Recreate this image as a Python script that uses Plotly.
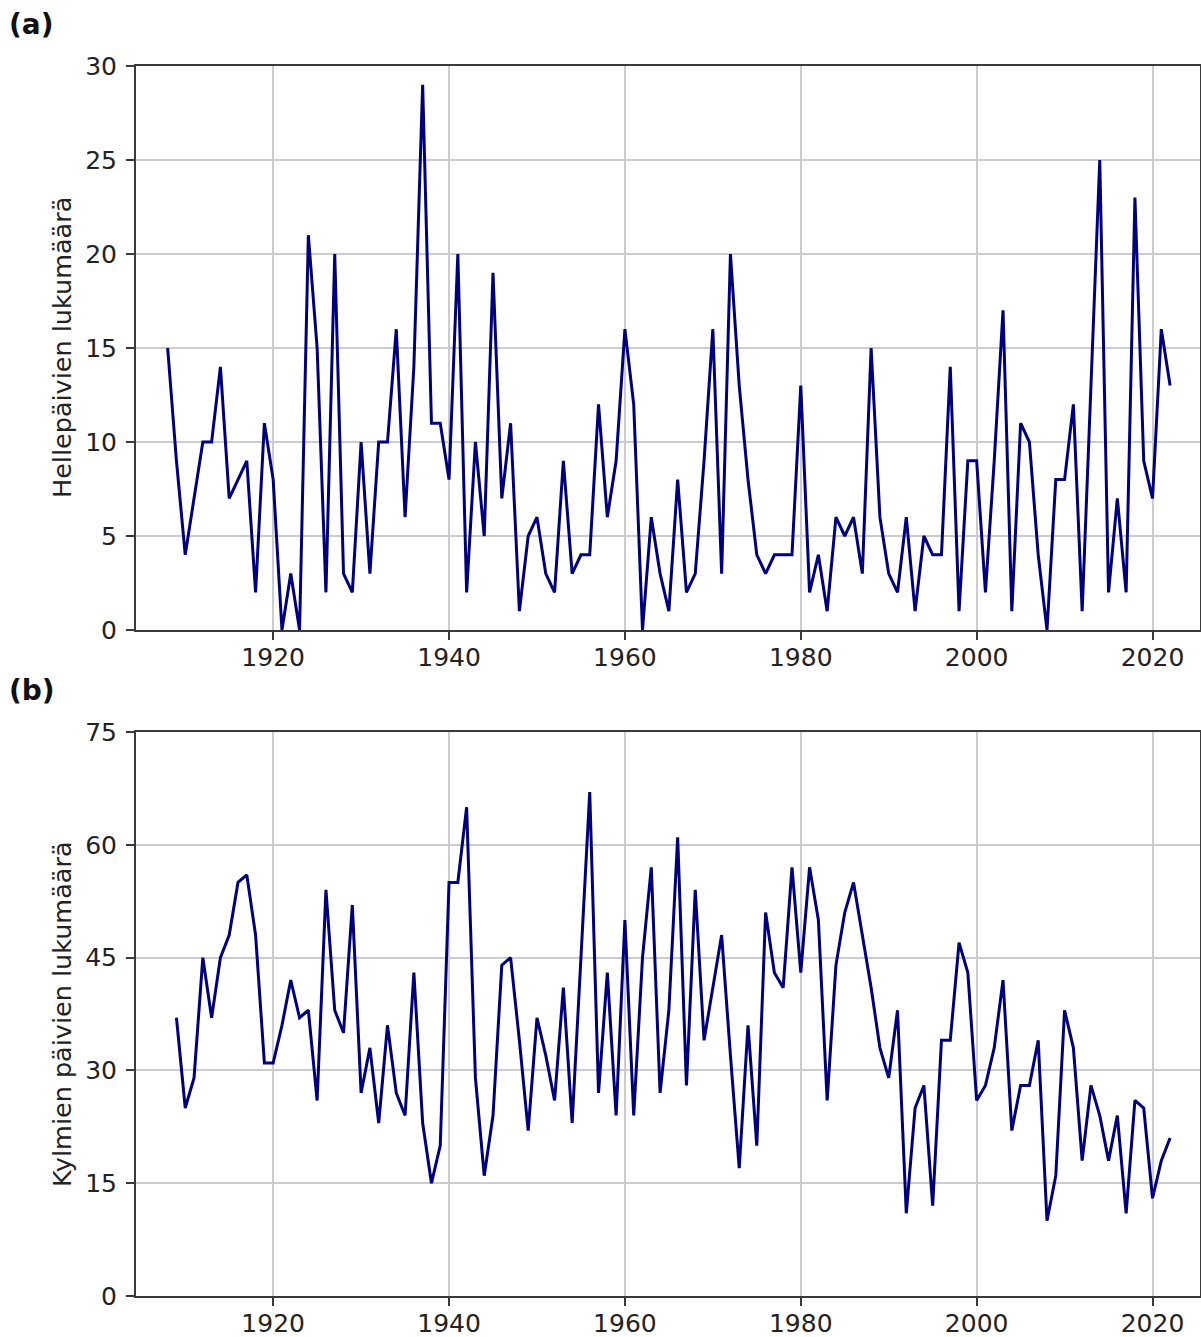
import plotly.graph_objects as go
from plotly.subplots import make_subplots

years_a = list(range(1908, 2023))
hot_days = [15, 9, 4, 7, 10, 10, 14, 7, 8, 9,
            2, 11, 8, 0, 3, 0, 21, 15, 2, 20,
            3, 2, 10, 3, 10, 10, 16, 6, 14, 29,
            11, 11, 8, 20, 2, 10, 5, 19, 7, 11,
            1, 5, 6, 3, 2, 9, 3, 4, 4, 12,
            6, 9, 16, 12, 0, 6, 3, 1, 8, 2,
            3, 9, 16, 3, 20, 13, 8, 4, 3, 4,
            4, 4, 13, 2, 4, 1, 6, 5, 6, 3,
            15, 6, 3, 2, 6, 1, 5, 4, 4, 14,
            1, 9, 9, 2, 9, 17, 1, 11, 10, 4,
            0, 8, 8, 12, 1, 13, 25, 2, 7, 2,
            23, 9, 7, 16, 13]

years_b = list(range(1909, 2023))
cold_days = [37, 25, 29, 45, 37, 45, 48, 55, 56, 48,
             31, 31, 36, 42, 37, 38, 26, 54, 38, 35,
             52, 27, 33, 23, 36, 27, 24, 43, 23, 15,
             20, 55, 55, 65, 29, 16, 24, 44, 45, 34,
             22, 37, 32, 26, 41, 23, 45, 67, 27, 43,
             24, 50, 24, 45, 57, 27, 38, 61, 28, 54,
             34, 41, 48, 32, 17, 36, 20, 51, 43, 41,
             57, 43, 57, 50, 26, 44, 51, 55, 48, 41,
             33, 29, 38, 11, 25, 28, 12, 34, 34, 47,
             43, 26, 28, 33, 42, 22, 28, 28, 34, 10,
             16, 38, 33, 18, 28, 24, 18, 24, 11, 26,
             25, 13, 18, 21]

x_ticks = [1920, 1940, 1960, 1980, 2000, 2020]
y_ticks_a = [0, 5, 10, 15, 20, 25, 30]
y_ticks_b = [0, 15, 30, 45, 60, 75]

W, H = 1201, 1337
L, T, R = 136, 66, 1
B = H - 1296
plot_h = H - T - B
dom_a = [(1296 - 630) / plot_h, 1.0]
dom_b = [0.0, (1296 - 732) / plot_h]

fig = make_subplots(rows=2, cols=1)
line_style = dict(color="#00007f", width=3)
fig.add_trace(go.Scatter(x=years_a, y=hot_days, mode="lines", line=line_style,
                         showlegend=False), row=1, col=1)
fig.add_trace(go.Scatter(x=years_b, y=cold_days, mode="lines", line=line_style,
                         showlegend=False), row=2, col=1)

tick_font = dict(family="DejaVu Sans", size=25, color="#222222")
axis_common = dict(showline=True, linecolor="#3a3a3a", linewidth=2, mirror=True,
                   ticks="outside", ticklen=8, tickwidth=2, tickcolor="#3a3a3a",
                   showgrid=True, gridcolor="#cccccc", gridwidth=1.5,
                   zeroline=False, tickfont=tick_font, automargin=False)

fig.update_xaxes(range=[1904.4, 2025.4], tickvals=x_ticks, ticklabelstandoff=-4,
                 **axis_common)
fig.update_yaxes(**axis_common)
fig.update_layout(
    xaxis=dict(domain=[0, 1]),
    xaxis2=dict(domain=[0, 1]),
    yaxis=dict(domain=dom_a, range=[0, 30], tickvals=y_ticks_a, ticklabelstandoff=4),
    yaxis2=dict(domain=dom_b, range=[0, 75], tickvals=y_ticks_b, ticklabelstandoff=4),
)

def px_x(p):
    return (p - L) / (W - L - R)

def px_y(p):
    return (H - B - p) / plot_h

annots = [
    dict(text="<b>(a)</b>", x=px_x(7), y=px_y(25)),
    dict(text="<b>(b)</b>", x=px_x(7), y=px_y(690)),
]
for a in annots:
    fig.add_annotation(xref="paper", yref="paper", xanchor="left", yanchor="middle",
                       showarrow=False, font=dict(family="DejaVu Sans", size=28, color="#111111"),
                       **a)

fig.add_annotation(text="Hellepäivien lukumäärä", xref="paper", yref="paper",
                   x=px_x(62), y=px_y(348), textangle=-90, showarrow=False,
                   xanchor="center", yanchor="middle",
                   font=dict(family="DejaVu Sans", size=25.5, color="#222222"))
fig.add_annotation(text="Kylmien päivien lukumäärä", xref="paper", yref="paper",
                   x=px_x(62), y=px_y(1014), textangle=-90, showarrow=False,
                   xanchor="center", yanchor="middle",
                   font=dict(family="DejaVu Sans", size=25.5, color="#222222"))

fig.update_layout(width=W, height=H, margin=dict(l=L, r=R, t=T, b=B, autoexpand=False),
                  plot_bgcolor="white", paper_bgcolor="white")

fig.write_html("out.html",
               config={"displayModeBar": False},
               post_script="document.body.style.margin='0';"
                           "document.documentElement.style.overflow='hidden';"
                           "document.body.style.overflow='hidden';")
